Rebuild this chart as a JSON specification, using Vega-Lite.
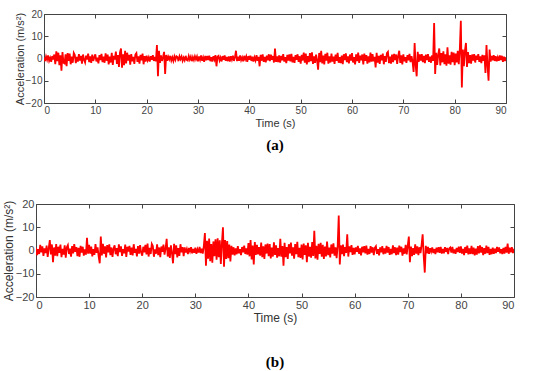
{
"$schema": "https://vega.github.io/schema/vega-lite/v6.json",
"padding": {"top": 8, "left": 1, "right": 5, "bottom": 5},
"background": "white",
"config": {
  "view": {"stroke": "#444", "strokeWidth": 1},
  "font": "Liberation Sans",
  "axis": {"grid": false, "domain": false, "tickSize": -4, "tickColor": "#444", "labelColor": "#444", "titleColor": "#333", "labelFontSize": 10, "titleFontSize": 11, "titleFontWeight": "normal", "labelPadding": 6, "labelFont": "Liberation Sans", "titleFont": "Liberation Sans"},
  "line": {"color": "#ff0000", "strokeWidth": 1.8}
},
"center": true,
"spacing": 43,
"data": {"values": [
{"t":0.0,"a":0.4,"b":1.2},{"t":0.2,"a":-1.2,"b":-2.0},{"t":0.4,"a":0.9,"b":0.6},{"t":0.6,"a":-0.6,"b":-1.5},{"t":0.8,"a":1.4,"b":2.4},{"t":1.0,"a":-1.0,"b":-0.8},{"t":1.2,"a":0.3,"b":1.8},{"t":1.4,"a":-1.5,"b":-2.3},{"t":1.6,"a":1.1,"b":0.9},{"t":1.8,"a":-0.4,"b":-1.1},
{"t":2.0,"a":1.8,"b":2.1},{"t":2.2,"a":-2.5,"b":-2.8},{"t":2.4,"a":3.2,"b":1.0},{"t":2.6,"a":-1.2,"b":4.5},{"t":2.8,"a":2.6,"b":-1.7},{"t":3.0,"a":-3.0,"b":2.6},{"t":3.2,"a":1.4,"b":-5.0},{"t":3.4,"a":-5.5,"b":1.3},{"t":3.6,"a":2.9,"b":-2.2},{"t":3.8,"a":-1.9,"b":2.8},
{"t":4.0,"a":-2.2,"b":-2.4},{"t":4.2,"a":1.9,"b":1.6},{"t":4.4,"a":-3.5,"b":-1.0},{"t":4.6,"a":2.4,"b":2.5},{"t":4.8,"a":-1.1,"b":-2.9},{"t":5.0,"a":2.2,"b":0.7},{"t":5.2,"a":-2.6,"b":-1.8},{"t":5.4,"a":0.8,"b":2.2},{"t":5.6,"a":-1.9,"b":-3.1},{"t":5.8,"a":2.5,"b":1.4},
{"t":6.0,"a":1.6,"b":2.3},{"t":6.2,"a":-2.1,"b":-1.5},{"t":6.4,"a":0.7,"b":0.8},{"t":6.6,"a":-1.4,"b":-2.6},{"t":6.8,"a":2.0,"b":1.9},{"t":7.0,"a":-0.9,"b":-1.2},{"t":7.2,"a":1.2,"b":2.7},{"t":7.4,"a":-2.3,"b":-0.6},{"t":7.6,"a":1.8,"b":1.5},{"t":7.8,"a":-0.6,"b":-2.4},
{"t":8.0,"a":-1.8,"b":1.1},{"t":8.2,"a":1.3,"b":-2.7},{"t":8.4,"a":-0.5,"b":2.0},{"t":8.6,"a":2.2,"b":-0.9},{"t":8.8,"a":-1.6,"b":1.6},{"t":9.0,"a":0.9,"b":-2.2},{"t":9.2,"a":-2.0,"b":0.5},{"t":9.4,"a":1.7,"b":-1.8},{"t":9.6,"a":-1.1,"b":5.5},{"t":9.8,"a":0.6,"b":-1.4},
{"t":10.0,"a":1.9,"b":2.4},{"t":10.2,"a":-1.3,"b":-1.3},{"t":10.4,"a":0.4,"b":1.7},{"t":10.6,"a":-2.2,"b":-2.5},{"t":10.8,"a":1.5,"b":0.6},{"t":11.0,"a":-0.7,"b":-1.9},{"t":11.2,"a":2.1,"b":2.8},{"t":11.4,"a":-1.6,"b":-1.0},{"t":11.6,"a":0.8,"b":1.4},{"t":11.8,"a":-1.9,"b":-2.6},
{"t":12.0,"a":2.3,"b":-5.5},{"t":12.2,"a":-1.0,"b":6.0},{"t":12.4,"a":1.7,"b":-2.1},{"t":12.6,"a":-2.6,"b":2.9},{"t":12.8,"a":0.9,"b":-1.4},{"t":13.0,"a":-1.8,"b":1.8},{"t":13.2,"a":2.5,"b":-3.0},{"t":13.4,"a":-2.9,"b":2.3},{"t":13.6,"a":1.2,"b":-0.8},{"t":13.8,"a":-0.5,"b":2.6},
{"t":14.0,"a":3.1,"b":-2.0},{"t":14.2,"a":-2.4,"b":1.3},{"t":14.4,"a":1.5,"b":-2.7},{"t":14.6,"a":-3.8,"b":0.9},{"t":14.8,"a":2.7,"b":2.2},{"t":15.0,"a":4.5,"b":-1.6},{"t":15.2,"a":-4.1,"b":1.0},{"t":15.4,"a":1.9,"b":-2.4},{"t":15.6,"a":-3.0,"b":2.6},{"t":15.8,"a":3.4,"b":-0.7},
{"t":16.0,"a":-2.2,"b":1.8},{"t":16.2,"a":2.6,"b":-2.3},{"t":16.4,"a":-0.9,"b":0.6},{"t":16.6,"a":1.6,"b":-1.2},{"t":16.8,"a":-2.8,"b":2.5},{"t":17.0,"a":2.0,"b":-2.8},{"t":17.2,"a":-1.3,"b":1.6},{"t":17.4,"a":0.7,"b":-0.5},{"t":17.6,"a":-2.4,"b":2.0},{"t":17.8,"a":1.8,"b":-1.9},
{"t":18.0,"a":2.4,"b":1.2},{"t":18.2,"a":-1.5,"b":-2.1},{"t":18.4,"a":0.9,"b":2.7},{"t":18.6,"a":-2.3,"b":-1.0},{"t":18.8,"a":1.6,"b":0.7},{"t":19.0,"a":-0.8,"b":-2.5},{"t":19.2,"a":2.2,"b":1.9},{"t":19.4,"a":-2.6,"b":-1.3},{"t":19.6,"a":1.1,"b":2.3},{"t":19.8,"a":-1.4,"b":-0.9},
{"t":20.0,"a":1.3,"b":-2.2},{"t":20.2,"a":-0.8,"b":1.6},{"t":20.4,"a":0.5,"b":-0.8},{"t":20.6,"a":-1.4,"b":2.4},{"t":20.8,"a":1.0,"b":-1.7},{"t":21.0,"a":-0.6,"b":3.0},{"t":21.2,"a":1.5,"b":-2.6},{"t":21.4,"a":-1.1,"b":1.1},{"t":21.6,"a":0.7,"b":-1.5},{"t":21.8,"a":-1.2,"b":2.8},
{"t":22.0,"a":6.0,"b":1.9},{"t":22.2,"a":-8.0,"b":-2.7},{"t":22.4,"a":3.5,"b":0.5},{"t":22.6,"a":-2.0,"b":-1.4},{"t":22.8,"a":1.4,"b":2.6},{"t":23.0,"a":-1.1,"b":-2.0},{"t":23.2,"a":0.8,"b":1.3},{"t":23.4,"a":3.0,"b":-2.9},{"t":23.6,"a":-7.0,"b":1.7},{"t":23.8,"a":1.6,"b":-0.6},
{"t":24.0,"a":-1.0,"b":2.5},{"t":24.2,"a":0.8,"b":-1.8},{"t":24.4,"a":-0.4,"b":0.9},{"t":24.6,"a":1.2,"b":5.0},{"t":24.8,"a":-0.9,"b":-2.6},{"t":25.0,"a":0.5,"b":1.4},{"t":25.2,"a":-1.1,"b":-3.2},{"t":25.4,"a":0.9,"b":2.2},{"t":25.6,"a":-0.6,"b":-1.1},{"t":25.8,"a":1.0,"b":-5.5},
{"t":26.0,"a":0.7,"b":2.9},{"t":26.2,"a":-1.2,"b":-1.6},{"t":26.4,"a":1.0,"b":2.2},{"t":26.6,"a":-0.3,"b":-3.0},{"t":26.8,"a":0.9,"b":1.0},{"t":27.0,"a":-1.0,"b":-2.3},{"t":27.2,"a":0.4,"b":2.7},{"t":27.4,"a":-0.8,"b":-0.8},{"t":27.6,"a":1.2,"b":1.5},{"t":27.8,"a":-0.6,"b":-2.4},
{"t":28.0,"a":-0.9,"b":1.3},{"t":28.2,"a":1.1,"b":-0.9},{"t":28.4,"a":-0.5,"b":0.6},{"t":28.6,"a":0.8,"b":-1.5},{"t":28.8,"a":-1.2,"b":1.1},{"t":29.0,"a":0.6,"b":-0.4},{"t":29.2,"a":-0.7,"b":1.4},{"t":29.4,"a":1.0,"b":-1.2},{"t":29.6,"a":-0.4,"b":0.7},{"t":29.8,"a":0.9,"b":-1.0},
{"t":30.0,"a":-1.3,"b":1.2},{"t":30.2,"a":0.9,"b":-1.4},{"t":30.4,"a":-0.6,"b":0.5},{"t":30.6,"a":1.4,"b":-0.9},{"t":30.8,"a":-1.0,"b":1.5},{"t":31.0,"a":0.5,"b":-1.1},{"t":31.2,"a":-1.5,"b":0.8},{"t":31.4,"a":1.2,"b":-1.3},{"t":31.6,"a":-0.8,"b":2.0},{"t":31.8,"a":1.1,"b":7.5},
{"t":32.0,"a":-0.7,"b":-6.5},{"t":32.2,"a":1.3,"b":4.2},{"t":32.4,"a":-1.2,"b":-3.5},{"t":32.6,"a":0.6,"b":5.1},{"t":32.8,"a":-1.4,"b":-4.6},{"t":33.0,"a":1.0,"b":2.8},{"t":33.2,"a":-0.5,"b":-5.3},{"t":33.4,"a":1.5,"b":3.9},{"t":33.6,"a":-3.5,"b":-2.4},{"t":33.8,"a":0.8,"b":4.8},
{"t":34.0,"a":1.2,"b":-4.0},{"t":34.2,"a":-0.9,"b":5.3},{"t":34.4,"a":0.4,"b":-2.9},{"t":34.6,"a":-1.3,"b":4.4},{"t":34.8,"a":1.1,"b":-5.8},{"t":35.0,"a":-0.6,"b":3.1},{"t":35.2,"a":1.4,"b":10.0},{"t":35.4,"a":-1.0,"b":-7.0},{"t":35.6,"a":0.7,"b":4.5},{"t":35.8,"a":-1.2,"b":-3.6},
{"t":36.0,"a":0.9,"b":4.1},{"t":36.2,"a":-1.4,"b":-3.3},{"t":36.4,"a":1.0,"b":2.6},{"t":36.6,"a":-0.5,"b":-4.7},{"t":36.8,"a":1.3,"b":2.0},{"t":37.0,"a":-1.1,"b":-1.8},{"t":37.2,"a":0.6,"b":1.4},{"t":37.4,"a":3.5,"b":-2.1},{"t":37.6,"a":-1.2,"b":0.9},{"t":37.8,"a":0.8,"b":-1.6},
{"t":38.0,"a":-1.0,"b":1.9},{"t":38.2,"a":1.4,"b":-1.2},{"t":38.4,"a":-0.7,"b":0.6},{"t":38.6,"a":0.5,"b":-2.0},{"t":38.8,"a":-1.3,"b":1.5},{"t":39.0,"a":1.2,"b":-0.8},{"t":39.2,"a":-0.4,"b":2.1},{"t":39.4,"a":0.9,"b":-1.5},{"t":39.6,"a":-1.5,"b":0.9},{"t":39.8,"a":1.1,"b":-1.8},
{"t":40.0,"a":-0.6,"b":3.2},{"t":40.2,"a":1.3,"b":-2.5},{"t":40.4,"a":-1.1,"b":4.5},{"t":40.6,"a":0.8,"b":-3.8},{"t":40.8,"a":-1.4,"b":2.1},{"t":41.0,"a":0.5,"b":-6.0},{"t":41.2,"a":-0.9,"b":3.6},{"t":41.4,"a":1.5,"b":-1.9},{"t":41.6,"a":-1.0,"b":2.4},{"t":41.8,"a":0.7,"b":-1.7},
{"t":42.0,"a":-3.5,"b":1.5},{"t":42.2,"a":1.6,"b":-2.2},{"t":42.4,"a":-1.0,"b":3.4},{"t":42.6,"a":1.8,"b":-2.9},{"t":42.8,"a":-1.5,"b":1.8},{"t":43.0,"a":0.7,"b":-3.6},{"t":43.2,"a":-1.7,"b":2.6},{"t":43.4,"a":1.3,"b":-1.3},{"t":43.6,"a":-0.8,"b":3.0},{"t":43.8,"a":1.9,"b":-2.4},
{"t":44.0,"a":-1.2,"b":2.8},{"t":44.2,"a":1.7,"b":-3.4},{"t":44.4,"a":-0.6,"b":1.2},{"t":44.6,"a":1.1,"b":-2.6},{"t":44.8,"a":-1.8,"b":3.5},{"t":45.0,"a":4.5,"b":-1.9},{"t":45.2,"a":-1.5,"b":2.2},{"t":45.4,"a":0.9,"b":-3.1},{"t":45.6,"a":-1.6,"b":1.0},{"t":45.8,"a":1.4,"b":-2.5},
{"t":46.0,"a":-1.9,"b":5.0},{"t":46.2,"a":1.2,"b":-2.7},{"t":46.4,"a":-0.8,"b":1.9},{"t":46.6,"a":2.0,"b":-6.5},{"t":46.8,"a":-1.4,"b":3.3},{"t":47.0,"a":0.6,"b":-2.9},{"t":47.2,"a":-2.1,"b":1.5},{"t":47.4,"a":1.6,"b":-3.6},{"t":47.6,"a":-0.9,"b":2.7},{"t":47.8,"a":1.8,"b":-1.2},
{"t":48.0,"a":-1.3,"b":3.4},{"t":48.2,"a":2.1,"b":-2.2},{"t":48.4,"a":-1.7,"b":1.4},{"t":48.6,"a":0.7,"b":-3.5},{"t":48.8,"a":-2.0,"b":2.8},{"t":49.0,"a":1.5,"b":-1.6},{"t":49.2,"a":-0.6,"b":3.7},{"t":49.4,"a":1.9,"b":-2.9},{"t":49.6,"a":-1.5,"b":1.1},{"t":49.8,"a":1.0,"b":-3.2},
{"t":50.0,"a":-2.3,"b":2.5},{"t":50.2,"a":1.6,"b":-3.8},{"t":50.4,"a":-0.9,"b":3.0},{"t":50.6,"a":2.6,"b":-1.9},{"t":50.8,"a":-1.9,"b":2.2},{"t":51.0,"a":2.2,"b":-5.0},{"t":51.2,"a":-2.7,"b":3.3},{"t":51.4,"a":1.1,"b":-2.6},{"t":51.6,"a":-1.6,"b":1.6},{"t":51.8,"a":2.4,"b":-3.1},
{"t":52.0,"a":-1.2,"b":3.6},{"t":52.2,"a":2.8,"b":-2.3},{"t":52.4,"a":-2.4,"b":8.5},{"t":52.6,"a":1.0,"b":-3.4},{"t":52.8,"a":-2.0,"b":2.0},{"t":53.0,"a":1.7,"b":-3.9},{"t":53.2,"a":-0.8,"b":2.9},{"t":53.4,"a":-5.0,"b":-1.5},{"t":53.6,"a":2.5,"b":3.3},{"t":53.8,"a":-1.6,"b":-2.7},
{"t":54.0,"a":3.5,"b":2.4},{"t":54.2,"a":-2.2,"b":-3.6},{"t":54.4,"a":1.3,"b":1.7},{"t":54.6,"a":-2.7,"b":-2.5},{"t":54.8,"a":2.1,"b":3.8},{"t":55.0,"a":-1.0,"b":-2.0},{"t":55.2,"a":2.6,"b":1.2},{"t":55.4,"a":-2.3,"b":-3.0},{"t":55.6,"a":0.9,"b":2.6},{"t":55.8,"a":-1.8,"b":-1.4},
{"t":56.0,"a":2.2,"b":3.1},{"t":56.2,"a":-1.4,"b":-2.2},{"t":56.4,"a":0.8,"b":1.4},{"t":56.6,"a":-2.4,"b":-3.3},{"t":56.8,"a":1.7,"b":2.0},{"t":57.0,"a":-1.1,"b":15.0},{"t":57.2,"a":2.5,"b":-6.0},{"t":57.4,"a":-1.9,"b":2.2},{"t":57.6,"a":0.6,"b":-1.6},{"t":57.8,"a":-2.1,"b":2.5},
{"t":58.0,"a":1.3,"b":-2.4},{"t":58.2,"a":-2.5,"b":1.5},{"t":58.4,"a":1.9,"b":-1.0},{"t":58.6,"a":-0.7,"b":7.0},{"t":58.8,"a":2.3,"b":-2.6},{"t":59.0,"a":-1.6,"b":1.8},{"t":59.2,"a":1.0,"b":-0.7},{"t":59.4,"a":-2.2,"b":2.3},{"t":59.6,"a":1.8,"b":-1.9},{"t":59.8,"a":-0.9,"b":1.1},
{"t":60.0,"a":2.4,"b":-1.7},{"t":60.2,"a":-1.8,"b":1.3},{"t":60.4,"a":0.6,"b":-0.6},{"t":60.6,"a":-2.6,"b":2.0},{"t":60.8,"a":1.9,"b":-1.4},{"t":61.0,"a":-1.2,"b":0.9},{"t":61.2,"a":2.7,"b":-2.1},{"t":61.4,"a":-2.0,"b":1.6},{"t":61.6,"a":1.3,"b":-0.8},{"t":61.8,"a":-0.8,"b":1.9},
{"t":62.0,"a":1.8,"b":-1.2},{"t":62.2,"a":-2.7,"b":2.1},{"t":62.4,"a":2.2,"b":-1.8},{"t":62.6,"a":-1.0,"b":0.7},{"t":62.8,"a":1.5,"b":-1.5},{"t":63.0,"a":-2.3,"b":1.9},{"t":63.2,"a":0.9,"b":-0.9},{"t":63.4,"a":-1.7,"b":1.4},{"t":63.6,"a":2.6,"b":-2.0},{"t":63.8,"a":-1.4,"b":1.1},
{"t":64.0,"a":2.0,"b":1.8},{"t":64.2,"a":-1.3,"b":-1.4},{"t":64.4,"a":0.7,"b":0.6},{"t":64.6,"a":-4.0,"b":-2.1},{"t":64.8,"a":2.5,"b":1.3},{"t":65.0,"a":-1.9,"b":-0.8},{"t":65.2,"a":1.2,"b":1.9},{"t":65.4,"a":-2.4,"b":-1.6},{"t":65.6,"a":1.6,"b":0.9},{"t":65.8,"a":-0.8,"b":-1.3},
{"t":66.0,"a":2.2,"b":2.0},{"t":66.2,"a":-2.6,"b":-0.9},{"t":66.4,"a":1.1,"b":1.5},{"t":66.6,"a":-1.5,"b":-1.9},{"t":66.8,"a":2.4,"b":0.7},{"t":67.0,"a":3.0,"b":-1.6},{"t":67.2,"a":-2.1,"b":2.2},{"t":67.4,"a":0.8,"b":-1.1},{"t":67.6,"a":-2.3,"b":1.4},{"t":67.8,"a":1.7,"b":-2.0},
{"t":68.0,"a":-1.6,"b":1.2},{"t":68.2,"a":2.1,"b":-1.8},{"t":68.4,"a":-0.7,"b":2.1},{"t":68.6,"a":1.8,"b":-0.7},{"t":68.8,"a":-2.4,"b":1.6},{"t":69.0,"a":1.2,"b":-2.2},{"t":69.2,"a":3.5,"b":0.9},{"t":69.4,"a":-2.0,"b":-1.4},{"t":69.6,"a":1.4,"b":2.4},{"t":69.8,"a":-2.6,"b":-1.7},
{"t":70.0,"a":1.9,"b":2.2},{"t":70.2,"a":-1.2,"b":6.0},{"t":70.4,"a":0.6,"b":-5.0},{"t":70.6,"a":-2.0,"b":1.7},{"t":70.8,"a":1.5,"b":-2.4},{"t":71.0,"a":-0.8,"b":1.0},{"t":71.2,"a":2.1,"b":-1.9},{"t":71.4,"a":-1.6,"b":2.6},{"t":71.6,"a":1.0,"b":-1.3},{"t":71.8,"a":-1.4,"b":1.8},
{"t":72.0,"a":-6.0,"b":-2.0},{"t":72.2,"a":7.0,"b":1.4},{"t":72.4,"a":-3.0,"b":-1.1},{"t":72.6,"a":-8.0,"b":2.4},{"t":72.8,"a":3.0,"b":7.0},{"t":73.0,"a":-1.5,"b":-2.5},{"t":73.2,"a":1.8,"b":-9.5},{"t":73.4,"a":-0.9,"b":2.0},{"t":73.6,"a":2.0,"b":-1.2},{"t":73.8,"a":-1.6,"b":1.5},
{"t":74.0,"a":1.2,"b":-1.4},{"t":74.2,"a":-2.1,"b":1.0},{"t":74.4,"a":1.7,"b":-0.5},{"t":74.6,"a":-0.7,"b":1.3},{"t":74.8,"a":2.0,"b":-1.1},{"t":75.0,"a":-1.5,"b":0.6},{"t":75.2,"a":0.8,"b":-1.5},{"t":75.4,"a":-1.9,"b":1.2},{"t":75.6,"a":1.4,"b":-0.8},{"t":75.8,"a":-1.0,"b":1.4},
{"t":76.0,"a":16.0,"b":-1.0},{"t":76.2,"a":-7.0,"b":1.5},{"t":76.4,"a":2.6,"b":-1.3},{"t":76.6,"a":-2.9,"b":0.7},{"t":76.8,"a":1.8,"b":-1.2},{"t":77.0,"a":4.5,"b":1.4},{"t":77.2,"a":-3.1,"b":-0.6},{"t":77.4,"a":2.4,"b":1.1},{"t":77.6,"a":-1.7,"b":-1.5},{"t":77.8,"a":3.2,"b":0.9},
{"t":78.0,"a":-2.5,"b":1.3},{"t":78.2,"a":1.9,"b":-0.9},{"t":78.4,"a":-3.2,"b":1.5},{"t":78.6,"a":5.0,"b":-1.2},{"t":78.8,"a":-2.3,"b":0.5},{"t":79.0,"a":1.4,"b":-1.4},{"t":79.2,"a":-2.8,"b":1.1},{"t":79.4,"a":3.0,"b":-0.7},{"t":79.6,"a":-1.6,"b":1.6},{"t":79.8,"a":2.7,"b":-1.0},
{"t":80.0,"a":-3.0,"b":1.8},{"t":80.2,"a":2.2,"b":-1.3},{"t":80.4,"a":-1.8,"b":0.7},{"t":80.6,"a":3.4,"b":-2.0},{"t":80.8,"a":-2.6,"b":1.5},{"t":81.0,"a":4.0,"b":-1.0},{"t":81.2,"a":17.0,"b":2.1},{"t":81.4,"a":-13.0,"b":-1.7},{"t":81.6,"a":4.0,"b":0.9},{"t":81.8,"a":-3.5,"b":-1.5},
{"t":82.0,"a":3.6,"b":2.0},{"t":82.2,"a":7.0,"b":-1.6},{"t":82.4,"a":-3.8,"b":1.2},{"t":82.6,"a":2.9,"b":-2.1},{"t":82.8,"a":-2.1,"b":0.8},{"t":83.0,"a":1.5,"b":-1.8},{"t":83.2,"a":-2.3,"b":1.9},{"t":83.4,"a":1.8,"b":-1.2},{"t":83.6,"a":-1.0,"b":2.2},{"t":83.8,"a":2.0,"b":-0.9},
{"t":84.0,"a":-1.8,"b":1.5},{"t":84.2,"a":1.3,"b":-2.0},{"t":84.4,"a":-0.6,"b":1.0},{"t":84.6,"a":2.0,"b":-1.4},{"t":84.8,"a":-1.5,"b":2.1},{"t":85.0,"a":0.9,"b":-1.1},{"t":85.2,"a":-2.1,"b":1.6},{"t":85.4,"a":1.6,"b":-1.9},{"t":85.6,"a":-1.1,"b":0.7},{"t":85.8,"a":1.4,"b":-1.6},
{"t":86.0,"a":-6.5,"b":1.2},{"t":86.2,"a":6.0,"b":-1.4},{"t":86.4,"a":-3.0,"b":0.8},{"t":86.6,"a":-10.0,"b":-1.1},{"t":86.8,"a":4.0,"b":1.5},{"t":87.0,"a":-1.4,"b":-0.6},{"t":87.2,"a":1.2,"b":1.3},{"t":87.4,"a":-0.8,"b":-1.2},{"t":87.6,"a":1.5,"b":0.6},{"t":87.8,"a":-1.1,"b":-1.5},
{"t":88.0,"a":1.0,"b":1.1},{"t":88.2,"a":-1.3,"b":-1.3},{"t":88.4,"a":0.5,"b":1.5},{"t":88.6,"a":-1.0,"b":-0.9},{"t":88.8,"a":1.4,"b":3.0},{"t":89.0,"a":-0.7,"b":-1.4},{"t":89.2,"a":1.2,"b":1.2},{"t":89.4,"a":-1.5,"b":-0.8},{"t":89.6,"a":0.8,"b":1.4},{"t":89.8,"a":-1.1,"b":-1.1},
{"t":90.0,"a":0.6,"b":0.7}
]},
"vconcat": [
 {
  "width": 462, "height": 89,
  "title": {"text": "(a)", "orient": "bottom", "font": "Liberation Serif", "fontSize": 15, "fontWeight": "bold", "color": "#000", "offset": 10},
  "layer": [
   {"mark": {"type": "line", "clip": true},
    "encoding": {
     "x": {"field": "t", "type": "quantitative", "scale": {"domain": [0, 90], "nice": false}, "axis": {"orient": "bottom", "values": [0,10,20,30,40,50,60,70,80,90], "title": "Time (s)", "titlePadding": 2}},
     "y": {"field": "a", "type": "quantitative", "scale": {"domain": [-20, 20], "nice": false}, "axis": {"orient": "left", "values": [-20,-10,0,10,20], "title": "Acceleration (m/s²)", "titlePadding": 0}}
    }},
   {"mark": {"type": "line", "strokeOpacity": 0},
    "encoding": {
     "x": {"field": "t", "type": "quantitative", "axis": {"orient": "top", "values": [0,10,20,30,40,50,60,70,80,90], "labels": false, "title": null}},
     "y": {"field": "a", "type": "quantitative", "axis": {"orient": "right", "values": [-20,-10,0,10,20], "labels": false, "title": null}}
    }}
  ],
  "resolve": {"axis": {"x": "independent", "y": "independent"}}
 },
 {
  "width": 478, "height": 93,
  "title": {"text": "(b)", "orient": "bottom", "font": "Liberation Serif", "fontSize": 15, "fontWeight": "bold", "color": "#000", "offset": 32},
  "layer": [
   {"mark": {"type": "line", "clip": true},
    "encoding": {
     "x": {"field": "t", "type": "quantitative", "scale": {"domain": [0, 90], "nice": false}, "axis": {"orient": "bottom", "values": [0,10,20,30,40,50,60,70,80,90], "title": "Time (s)", "titlePadding": 2, "labelFontSize": 11, "titleFontSize": 12}},
     "y": {"field": "b", "type": "quantitative", "scale": {"domain": [-20, 20], "nice": false}, "axis": {"orient": "left", "values": [-20,-10,0,10,20], "title": "Acceleration (m/s²)", "titlePadding": 0, "labelFontSize": 11, "titleFontSize": 12}}
    }},
   {"mark": {"type": "line", "strokeOpacity": 0},
    "encoding": {
     "x": {"field": "t", "type": "quantitative", "axis": {"orient": "top", "values": [0,10,20,30,40,50,60,70,80,90], "labels": false, "title": null}},
     "y": {"field": "b", "type": "quantitative", "axis": {"orient": "right", "values": [-20,-10,0,10,20], "labels": false, "title": null}}
    }}
  ],
  "resolve": {"axis": {"x": "independent", "y": "independent"}}
 }
]
}
